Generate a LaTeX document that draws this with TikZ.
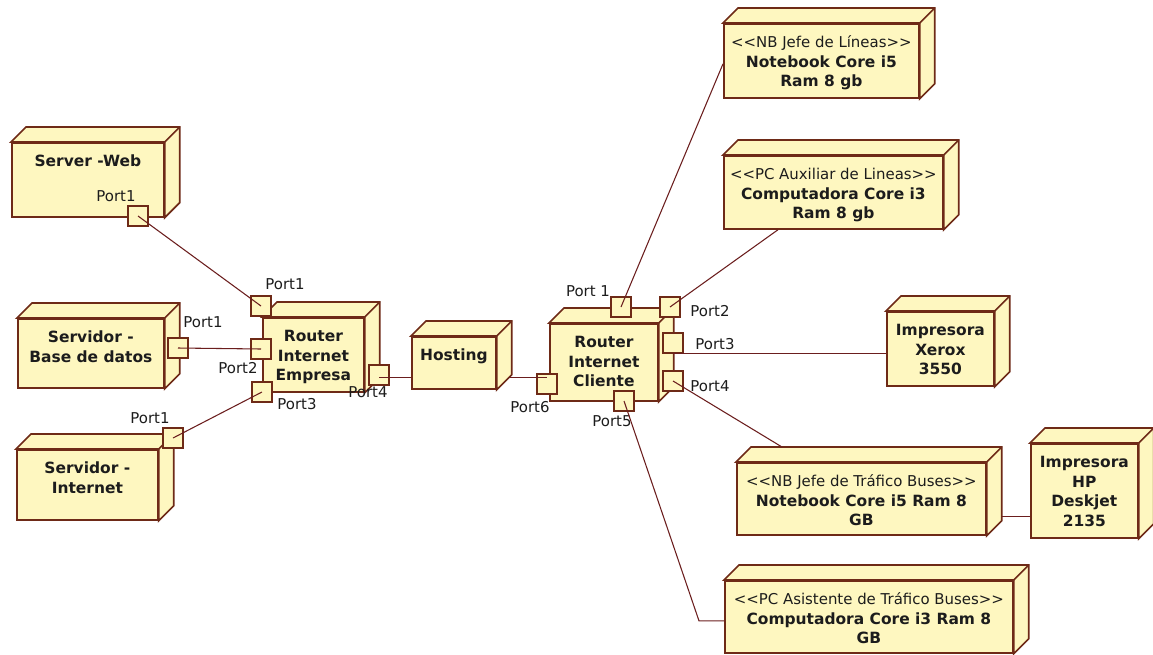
\documentclass[tikz,border=0pt]{standalone}
\usepackage{fontspec}
\setmainfont{DejaVu Sans}
\usetikzlibrary{calc}
\definecolor{umlfill}{HTML}{FEF7C0}
\definecolor{umlline}{HTML}{6E2A17}
\definecolor{umlcon}{HTML}{6B1E1E}
\definecolor{umltext}{HTML}{1C1C1C}
\newcommand{\stereo}[1]{{\mdseries\fontsize{11.2}{14.6}\selectfont <{}<#1>{}>}\\}
\tikzset{
  cubo/.style n args={3}{rectangle, draw=umlline, line width=1.3pt, fill=umlfill,
                 anchor=north west, align=center, text=umltext,
                 font=\fontsize{11.6}{14.6}\selectfont\bfseries,
                 inner xsep=2pt, inner ysep=0pt, minimum width=#1*0.75pt,
                 text height=(4.6+#3*19.47)*0.75pt, text depth=(#2-4.6-#3*19.47)*0.75pt},
  cara/.style  ={draw=umlline, line width=1.3pt, fill=umlfill},
  puerto/.style={rectangle, draw=umlline, line width=1.1pt, fill=umlfill,
                 minimum size=15pt, inner sep=0pt},
  etq/.style   ={font=\fontsize{11.2}{13}\selectfont, text=umltext, inner sep=0pt},
  con/.style   ={draw=umlcon, line width=0.8pt}
}

\begin{document}
\begin{tikzpicture}[x=0.75pt,y=-0.75pt]
  \useasboundingbox (0,0) rectangle (1153,654);
  % --- servers (left)
  \node[cubo={152}{74}{1}] (web)  at (11,142)  {Server -Web};
  \node[cubo={146}{69}{2}] (bd)   at (17,318)  {Servidor -\\Base de datos};
  \node[cubo={141}{70}{2}] (inet) at (16,449)  {Servidor -\\Internet};
  % --- routers and hosting
  \node[cubo={101}{74}{3}] (re)   at (262,317) {Router\\Internet\\Empresa};
  \node[cubo={84}{52}{1}]  (host) at (411,336) {Hosting};
  \node[cubo={108}{77}{3}] (rc)   at (549,323) {Router\\Internet\\Cliente};
  % --- client devices (right)
  \node[cubo={195}{74}{3}] (nbl)  at (723,23)  {\stereo{NB Jefe de Líneas}Notebook Core i5\\Ram 8 gb};
  \node[cubo={219}{73}{3}] (pca)  at (723,155) {\stereo{PC Auxiliar de Lineas}Computadora Core i3\\Ram 8 gb};
  \node[cubo={107}{74}{3}] (xer)  at (886,311) {Impresora\\Xerox\\3550};
  \node[cubo={249}{72}{3}] (nbt)  at (736,462) {\stereo{NB Jefe de Tráfico Buses}Notebook Core i5 Ram 8\\GB};
  \node[cubo={107}{94}{4}] (hp)   at (1030,443) {Impresora\\HP\\Deskjet\\2135};
  \node[cubo={288}{72}{3}] (pcs)  at (724,580) {\stereo{PC Asistente de Tráfico Buses}Computadora Core i3 Ram 8\\GB};

  % --- depth faces
  \foreach \n in {web,bd,inet,re,host,rc,nbl,pca,xer,nbt,hp,pcs} {
    \draw[cara] (\n.north west) -- ++(15,-15) -| ($(\n.south east)+(15,-15)$)
                -- (\n.south east) -- (\n.north east) -- cycle;
    \draw[cara] (\n.north east) -- ++(15,-15);
  }

  % --- ports
  \node[puerto] (pw)  at (138,216) {};
  \node[puerto] (pb)  at (178,348) {};
  \node[puerto] (pi)  at (173,438) {};
  \node[puerto] (re1) at (261,306) {};
  \node[puerto] (re2) at (261,349) {};
  \node[puerto] (re3) at (262,392) {};
  \node[puerto] (re4) at (379,375) {};
  \node[puerto] (rc1) at (621,307) {};
  \node[puerto] (rc2) at (670,307) {};
  \node[puerto] (rc3) at (673,343) {};
  \node[puerto] (rc4) at (673,381) {};
  \node[puerto] (rc5) at (624,401) {};
  \node[puerto] (rc6) at (547,384) {};

  \node[etq] (lpw)  at (116,196) {Port1};
  \node[etq] (lpb)  at (203,322) {Port1};
  \node[etq] (lpi)  at (150,418) {Port1};
  \node[etq] (lre1) at (285,284) {Port1};
  \node[etq] (lre2) at (238,368) {Port2};
  \node[etq] (lre3) at (297,404) {Port3};
  \node[etq] (lre4) at (368,392) {Port4};
  \node[etq] (lrc1) at (588,291) {Port 1};
  \node[etq] (lrc2) at (710,311) {Port2};
  \node[etq] (lrc3) at (715,344) {Port3};
  \node[etq] (lrc4) at (710,386) {Port4};
  \node[etq] (lrc5) at (612,421) {Port5};
  \node[etq] (lrc6) at (530,407) {Port6};

  % --- links
  \draw[con] (pw.center) -- (re1.center);
  \draw[con] (pb.center) -- (re2.center);
  \draw[con] (pi.center) -- (re3.center);
  \coordinate (hs) at ($(host.east)+(12,15)$);
  \draw[con] (re4.center |- hs) -- (host.west |- hs);
  \draw[con] (hs) -- (rc6.center |- hs);
  \draw[con] (rc1.center) -- ($(nbl.west)+(0,3)$);
  \draw[con] (rc2.center) -- ($(pca.south west)+(55,0)$);
  \draw[con] (rc3.south) -- (rc3.south -| xer.west);
  \draw[con] (rc4.center) -- ($(nbt.north west)+(46,-15)$);
  \draw[con] (rc5.center) -- ($(pcs.west)+(-25,4)$) -- ($(pcs.west)+(0,4)$);
  \coordinate (nh) at ($(nbt.south east)+(15,-19)$);
  \draw[con] (nh) -- (nh -| hp.west);
\end{tikzpicture}
\end{document}
